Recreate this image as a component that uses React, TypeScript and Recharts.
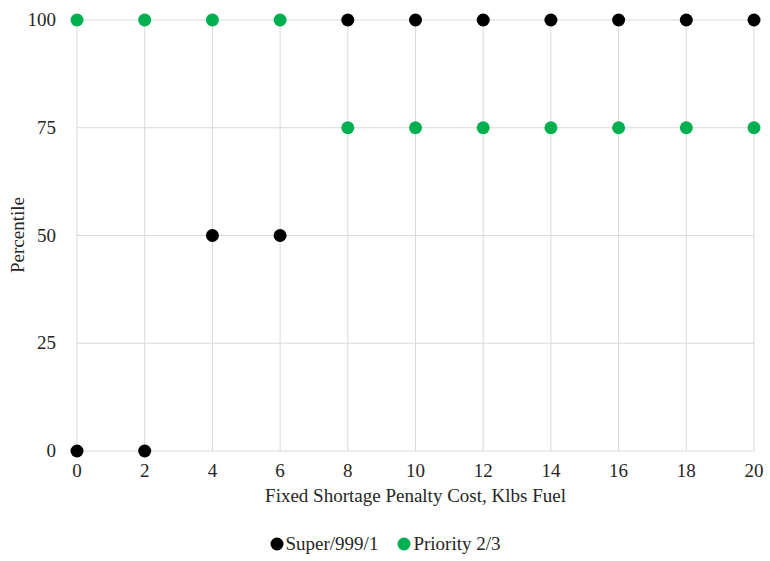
import React from "react";
import { ScatterChart, Scatter, XAxis, YAxis, CartesianGrid } from "recharts";

const xTicks = [0, 2, 4, 6, 8, 10, 12, 14, 16, 18, 20];
const yTicks = [0, 25, 50, 75, 100];
const superX = [0, 2, 4, 6, 8, 10, 12, 14, 16, 18, 20];
const superY = [0, 0, 50, 50, 100, 100, 100, 100, 100, 100, 100];
const priorityX = [0, 2, 4, 6, 8, 10, 12, 14, 16, 18, 20];
const priorityY = [100, 100, 100, 100, 75, 75, 75, 75, 75, 75, 75];

const superData = superX.map((x, i) => ({ x, y: superY[i] }));
const priorityData = priorityX.map((x, i) => ({ x, y: priorityY[i] }));

const FONT = "Liberation Serif";
const TEXT = "#262626";
const FS = 19;

const Dot = (color: string) => (props: any) => (
  <circle cx={props.cx} cy={props.cy} r={6.5} fill={color} />
);

const XTick = (props: any) => (
  <text x={props.x} y={props.y} dy={18} textAnchor="middle" style={{ fontFamily: FONT, fontSize: FS }} fill={TEXT}>
    {props.payload.value}
  </text>
);

const YTick = (props: any) => (
  <text x={props.x} y={props.y} dy={6} textAnchor="end" style={{ fontFamily: FONT, fontSize: FS }} fill={TEXT}>
    {props.payload.value}
  </text>
);

const series = [
  { name: "Super/999/1", color: "#000000" },
  { name: "Priority 2/3", color: "#00B050" },
];

export default function App() {
  return (
    <div style={{ position: "absolute", left: 0, top: 0, width: 770, height: 561, background: "#fff" }}>
      <ScatterChart width={770} height={561} margin={{ top: 20, right: 16, bottom: 80, left: 0 }}>
        <CartesianGrid stroke="#D9D9D9" strokeWidth={1} />
        <XAxis
          type="number"
          dataKey="x"
          domain={[0, 20]}
          ticks={xTicks}
          axisLine={false}
          tickLine={false}
          tick={<XTick />}
          height={30}
        />
        <YAxis
          type="number"
          dataKey="y"
          domain={[0, 100]}
          ticks={yTicks}
          width={77}
          axisLine={false}
          tickLine={false}
          tick={<YTick />}
          tickMargin={15}
        />
        <Scatter name="Super/999/1" data={superData} fill="#000000" shape={Dot("#000000")} isAnimationActive={false} />
        <Scatter name="Priority 2/3" data={priorityData} fill="#00B050" shape={Dot("#00B050")} isAnimationActive={false} />
      </ScatterChart>
      <div style={{ position: "absolute", left: 77, width: 677, top: 485, textAlign: "center", fontFamily: FONT, fontSize: FS, color: TEXT }}>
        Fixed Shortage Penalty Cost, Klbs Fuel
      </div>
      <div style={{ position: "absolute", left: 18, top: 235, width: 0, height: 0 }}>
        <div style={{ position: "absolute", left: 0, top: 0, transform: "translate(-50%, -50%) rotate(-90deg)", whiteSpace: "nowrap", fontFamily: FONT, fontSize: FS, color: TEXT }}>
          Percentile
        </div>
      </div>
      <div style={{ position: "absolute", left: 0, width: 770, top: 533, display: "flex", justifyContent: "center", fontFamily: FONT, fontSize: FS, color: TEXT }}>
        {series.map((s, i) => (
          <div key={s.name} style={{ display: "flex", alignItems: "center", marginLeft: i ? 19 : 0 }}>
            <svg width={14} height={14} style={{ marginRight: 2 }}>
              <circle cx={7} cy={7} r={6.5} fill={s.color} />
            </svg>
            <span>{s.name}</span>
          </div>
        ))}
      </div>
    </div>
  );
}
